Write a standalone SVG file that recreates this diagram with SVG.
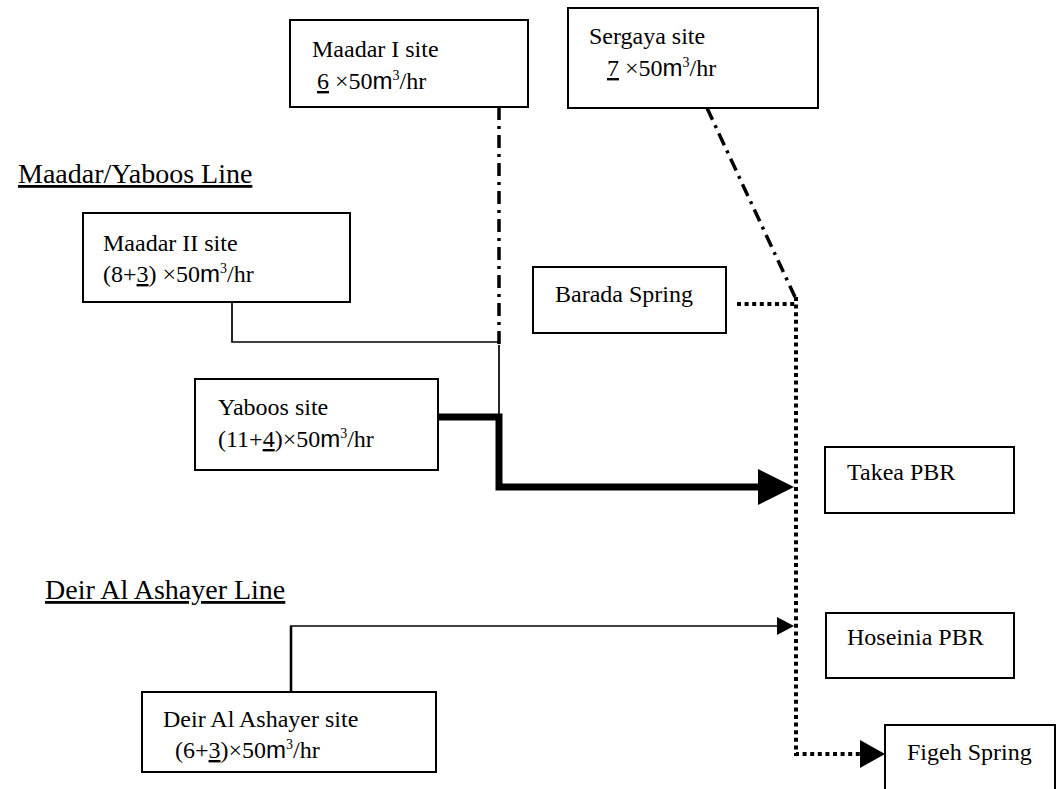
<svg xmlns="http://www.w3.org/2000/svg" width="1060" height="789" viewBox="0 0 1060 789">
<style>
.box{fill:#fff;stroke:#000;stroke-width:2}
.t{font-family:"Liberation Serif","Times New Roman",serif;font-size:24px;fill:#000}
.lbl{font-family:"Liberation Serif","Times New Roman",serif;font-size:28px;fill:#000;text-decoration:underline}
.m{font-family:"Liberation Sans",Arial,sans-serif}
.sup{font-size:14px}
.u{text-decoration:underline}
.thin{fill:none;stroke:#000;stroke-width:1.7}
.dd{fill:none;stroke:#000;stroke-width:3.5;stroke-dasharray:13 6 3 6}
.dot{fill:none;stroke:#000;stroke-width:4;stroke-dasharray:4 3.6}
.thick{fill:none;stroke:#000;stroke-width:7}
</style>
<rect width="1060" height="789" fill="#fff"/>
<text class="lbl" x="18" y="183">Maadar/Yaboos Line</text>
<text class="lbl" x="45" y="599">Deir Al Ashayer Line</text>
<g id="connectors">
<line class="dd" x1="499" y1="107" x2="499" y2="345"/>
<line class="dd" x1="707" y1="108" x2="795" y2="297"/>
<polyline class="thin" points="232,302 232,342 499,342"/>
<line class="thin" x1="499" y1="345" x2="499" y2="417"/>
<polyline class="thick" points="438,417 499,417 499,487 760,487"/>
<polygon points="758,469 794,487 758,505" fill="#000"/>
<line class="dot" x1="737" y1="304" x2="796" y2="304"/>
<polyline class="dot" points="796,297 796,754 862,754"/>
<polygon points="860,740 885,754 860,768" fill="#000"/>
<line x1="291" y1="692" x2="291" y2="626" stroke="#000" stroke-width="2.6"/>
<line class="thin" x1="290" y1="626" x2="778" y2="626"/>
<polygon points="777,617 794,626 777,635" fill="#000"/>
</g>
<g id="maadar1">
<rect class="box" x="290" y="20" width="238" height="87"/>
<text class="t" x="312" y="57">Maadar I site</text>
<text class="t" x="317" y="89"><tspan class="u">6</tspan> ×50<tspan class="m">m</tspan><tspan class="sup" dy="-9">3</tspan><tspan dy="9">/hr</tspan></text>
</g>
<g id="sergaya">
<rect class="box" x="568" y="8" width="250" height="100"/>
<text class="t" x="589" y="44">Sergaya site</text>
<text class="t" x="607" y="76"><tspan class="u">7</tspan> ×50<tspan class="m">m</tspan><tspan class="sup" dy="-9">3</tspan><tspan dy="9">/hr</tspan></text>
</g>
<g id="maadar2">
<rect class="box" x="83" y="213" width="267" height="89"/>
<text class="t" x="103" y="251">Maadar II site</text>
<text class="t" x="103" y="282">(8+<tspan class="u">3</tspan>) ×50<tspan class="m">m</tspan><tspan class="sup" dy="-9">3</tspan><tspan dy="9">/hr</tspan></text>
</g>
<g id="yaboos">
<rect class="box" x="195" y="379" width="243" height="91"/>
<text class="t" x="218" y="415">Yaboos site</text>
<text class="t" x="218" y="447">(11+<tspan class="u">4</tspan>)×50<tspan class="m">m</tspan><tspan class="sup" dy="-9">3</tspan><tspan dy="9">/hr</tspan></text>
</g>
<g id="barada">
<rect class="box" x="533" y="267" width="193" height="66"/>
<text class="t" x="555" y="302">Barada Spring</text>
</g>
<g id="takea">
<rect class="box" x="825" y="447" width="189" height="66"/>
<text class="t" x="847" y="480">Takea PBR</text>
</g>
<g id="hoseinia">
<rect class="box" x="826" y="613" width="188" height="65"/>
<text class="t" x="847" y="645">Hoseinia PBR</text>
</g>
<g id="figeh">
<rect class="box" x="885" y="725" width="170" height="80"/>
<text class="t" x="907" y="760">Figeh Spring</text>
</g>
<g id="deir">
<rect class="box" x="142" y="692" width="294" height="80"/>
<text class="t" x="163" y="727">Deir Al Ashayer site</text>
<text class="t" x="175" y="758">(6+<tspan class="u">3</tspan>)×50<tspan class="m">m</tspan><tspan class="sup" dy="-9">3</tspan><tspan dy="9">/hr</tspan></text>
</g>
</svg>
